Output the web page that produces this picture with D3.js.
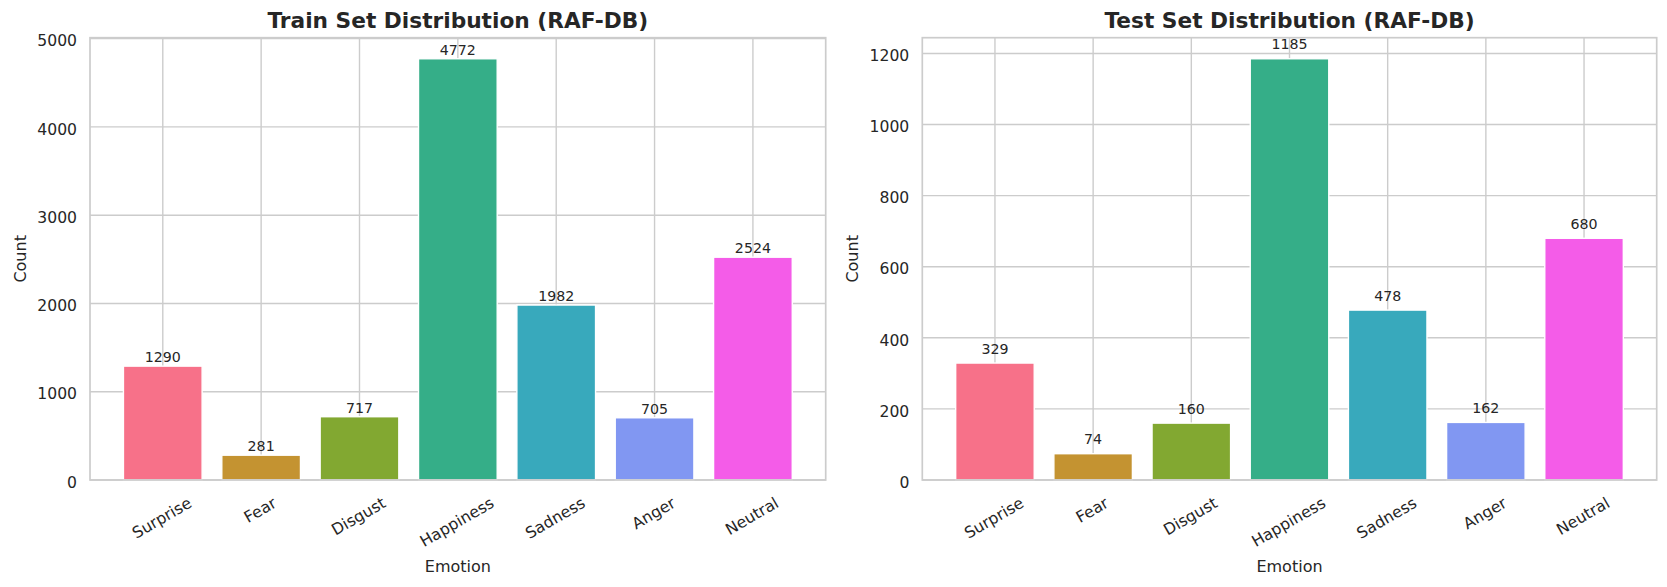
<!DOCTYPE html>
<html>
<head>
<meta charset="utf-8">
<script src="https://cdn.jsdelivr.net/npm/d3@7"></script>
<style>
  body { margin: 0; background: #fff; }
  svg text { font-family: "DejaVu Sans", sans-serif; fill: #262626; }
</style>
</head>
<body>
<svg id="chart" width="1667" height="587"></svg>
<script>
// data
var emotions = ["Surprise", "Fear", "Disgust", "Happiness", "Sadness", "Anger", "Neutral"];
var trainCounts = [1290, 281, 717, 4772, 1982, 705, 2524];
var testCounts = [329, 74, 160, 1185, 478, 162, 680];
var trainTicks = [0, 1000, 2000, 3000, 4000, 5000];
var testTicks = [0, 200, 400, 600, 800, 1000, 1200];
var palette = ["#f77189", "#c49331", "#82a831", "#35ae88", "#38a9bc", "#8197f2", "#f45ce8"];

var svg = d3.select("#chart");
svg.append("rect").attr("width", 1667).attr("height", 587).attr("fill", "#fff");

function drawPanel(opts) {
  var x0 = opts.left, x1 = opts.right, y0 = 37.7, y1 = 480;
  var g = svg.append("g");
  var ymax = d3.max(opts.values) * 1.05;

  var x = d3.scaleLinear().domain([-0.74, emotions.length - 1 + 0.74]).range([x0, x1]);
  var y = d3.scaleLinear().domain([0, ymax]).range([y1, y0]);
  var bw = x(0.8) - x(0);

  // grid
  g.selectAll(".hgrid").data(opts.ticks).enter().append("line")
    .attr("x1", x0).attr("x2", x1)
    .attr("y1", function(d) { return y(d); }).attr("y2", function(d) { return y(d); })
    .attr("stroke", "#cccccc").attr("stroke-width", 1.4);
  g.selectAll(".vgrid").data(emotions).enter().append("line")
    .attr("x1", function(d, i) { return x(i); }).attr("x2", function(d, i) { return x(i); })
    .attr("y1", y0).attr("y2", y1)
    .attr("stroke", "#cccccc").attr("stroke-width", 1.4);

  // bars
  g.selectAll(".bar").data(opts.values).enter().append("rect")
    .attr("x", function(d, i) { return x(i) - bw / 2; })
    .attr("y", function(d) { return y(d); })
    .attr("width", bw)
    .attr("height", function(d) { return y1 - y(d); })
    .attr("fill", function(d, i) { return palette[i]; })
    .attr("stroke", "#fff").attr("stroke-width", 1.4);

  // spines
  g.append("rect")
    .attr("x", x0).attr("y", y0).attr("width", x1 - x0).attr("height", y1 - y0)
    .attr("fill", "none").attr("stroke", "#cccccc").attr("stroke-width", 1.7);

  // value labels
  g.selectAll(".val").data(opts.values).enter().append("text")
    .attr("x", function(d, i) { return x(i); })
    .attr("y", function(d) { return y(d + 20) - 2.2; })
    .attr("text-anchor", "middle")
    .attr("font-size", "14.2px")
    .text(function(d) { return d; });

  // y tick labels
  g.selectAll(".ytick").data(opts.ticks).enter().append("text")
    .attr("x", x0 - 13)
    .attr("y", function(d) { return y(d) + 7.7; })
    .attr("text-anchor", "end")
    .attr("font-size", "15.6px")
    .text(function(d) { return d; });

  // x tick labels, rotated 30deg, bbox centred under tick
  var fs = 15.8, pad = 13.5, a = Math.PI / 6;
  g.selectAll(".xtick").data(emotions).enter().append("text")
    .attr("text-anchor", "middle")
    .attr("dominant-baseline", "central")
    .attr("font-size", fs + "px")
    .text(function(d) { return d; })
    .each(function(d, i) {
      var w = this.getComputedTextLength();
      var h = fs * 1.164;
      var H = w * Math.sin(a) + h * Math.cos(a);
      var cx = x(i) - 1, cy = y1 + pad + H / 2;
      d3.select(this).attr("x", cx).attr("y", cy)
        .attr("transform", "rotate(-30," + cx + "," + cy + ")");
    });

  // axis labels
  var mid = (x0 + x1) / 2;
  g.append("text")
    .attr("x", mid).attr("y", 571.7)
    .attr("text-anchor", "middle").attr("font-size", "16px")
    .text("Emotion");
  g.append("text")
    .attr("transform", "translate(" + (x0 - 64) + "," + ((y0 + y1) / 2) + ") rotate(-90)")
    .attr("text-anchor", "middle").attr("font-size", "16px")
    .text("Count");

  // title
  g.append("text")
    .attr("x", mid).attr("y", 28)
    .attr("text-anchor", "middle")
    .attr("font-size", "21.7px").attr("font-weight", "bold")
    .text(opts.title);
}

drawPanel({ left: 90, right: 825.7, values: trainCounts, ticks: trainTicks,
            title: "Train Set Distribution (RAF-DB)" });
drawPanel({ left: 922.3, right: 1656.7, values: testCounts, ticks: testTicks,
            title: "Test Set Distribution (RAF-DB)" });
</script>
</body>
</html>
